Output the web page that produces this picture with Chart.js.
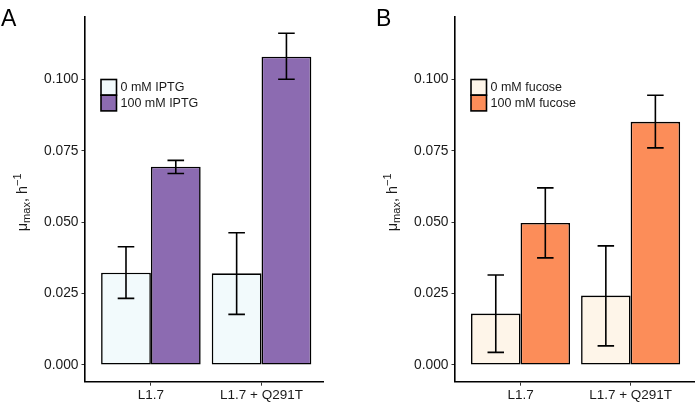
<!DOCTYPE html>
<html>
<head>
<meta charset="utf-8">
<script src="https://cdn.jsdelivr.net/npm/chart.js@4"></script>
<style>
  body { margin: 0; width: 695px; height: 405px; overflow: hidden; background: #fff; position: relative; font-family: "Liberation Sans", Arial, sans-serif; }
  .panel { position: absolute; top: 0; }
  .letter { position: absolute; font-size: 23px; color: #000; line-height: 1; }
</style>
</head>
<body>
<div class="panel" style="left:0"><canvas id="chartA" width="345" height="405"></canvas></div>
<div class="panel" style="left:345px"><canvas id="chartB" width="350" height="405"></canvas></div>
<div class="letter" style="left:1px;top:7px">A</div>
<div class="letter" style="left:376px;top:7px">B</div>
<script>
// strains on the x axis
const categories = ['L1.7', 'L1.7 + Q291T'];

// panel A: IPTG
const iptg0 = [0.0323, 0.0321];
const iptg0Lo = [0.0233, 0.0177];
const iptg0Hi = [0.0414, 0.0463];
const iptg100 = [0.0694, 0.1079];
const iptg100Lo = [0.0670, 0.1000];
const iptg100Hi = [0.0716, 0.1161];

// panel B: fucose
const fuc0 = [0.0180, 0.0243];
const fuc0Lo = [0.0044, 0.0067];
const fuc0Hi = [0.0315, 0.0417];
const fuc100 = [0.0497, 0.0851];
const fuc100Lo = [0.0375, 0.0760];
const fuc100Hi = [0.0620, 0.0944];

const yTickValues = [0, 0.025, 0.05, 0.075, 0.1];
const yTickLabels = ['0.000', '0.025', '0.050', '0.075', '0.100'];

const FONT = '"Liberation Sans", Arial, sans-serif';
const TEXT = '#1a1a1a';

// error bars drawn on top of the bars
const errorBars = {
    id: 'errorBars',
    afterDatasetsDraw(chart) {
        const ctx = chart.ctx;
        const xs = chart.scales.x, ys = chart.scales.y;
        const unit = xs.getPixelForValue(2) - xs.getPixelForValue(1);
        const half = unit * 0.075;
        ctx.save();
        ctx.strokeStyle = '#000';
        ctx.lineWidth = 1.6;
        chart.data.datasets.forEach((ds, di) => {
            chart.getDatasetMeta(di).data.forEach((bar, i) => {
                const top = ys.getPixelForValue(ds.hi[i]);
                const bot = ys.getPixelForValue(ds.lo[i]);
                ctx.beginPath();
                ctx.moveTo(bar.x, top); ctx.lineTo(bar.x, bot);
                ctx.moveTo(bar.x - half, top); ctx.lineTo(bar.x + half, top);
                ctx.moveTo(bar.x - half, bot); ctx.lineTo(bar.x + half, bot);
                ctx.stroke();
            });
        });
        ctx.restore();
    }
};

// legend inside the plot and y axis title with sub/superscript
const decorations = {
    id: 'decorations',
    afterDraw(chart) {
        const ctx = chart.ctx;
        const area = chart.chartArea;
        ctx.save();
        // legend
        const kx = area.left + 16.5, ky = 79.5, kw = 15.5, kh = 15.7;
        chart.data.datasets.forEach((ds, i) => {
            ctx.fillStyle = ds.backgroundColor;
            ctx.fillRect(kx, ky + i * kh, kw, kh);
            ctx.strokeStyle = '#000';
            ctx.lineWidth = 1.6;
            ctx.strokeRect(kx, ky + i * kh, kw, kh);
            ctx.fillStyle = TEXT;
            ctx.font = '12.5px ' + FONT;
            ctx.textBaseline = 'middle';
            ctx.textAlign = 'left';
            ctx.fillText(ds.label, kx + kw + 4, ky + i * kh + kh / 2 + 0.5);
        });
        // y title
        const cy = (area.top + area.bottom) / 2 + 3;
        ctx.translate(area.left - 58, cy);
        ctx.rotate(-Math.PI / 2);
        const big = '14.5px ' + FONT, small = '11px ' + FONT;
        const parts = [
            { t: 'μ', f: big, dy: 0 },
            { t: 'max', f: small, dy: 3.5 },
            { t: ', h', f: big, dy: 0 },
            { t: '−1', f: small, dy: -6 }
        ];
        let total = 0;
        parts.forEach(p => { ctx.font = p.f; p.w = ctx.measureText(p.t).width; total += p.w; });
        let x = -total / 2;
        ctx.fillStyle = TEXT;
        ctx.textBaseline = 'alphabetic';
        ctx.textAlign = 'left';
        parts.forEach(p => { ctx.font = p.f; ctx.fillText(p.t, x, p.dy); x += p.w; });
        ctx.restore();
    }
};

function makeChart(id, yWidth, padRight, xMax, series) {
    const datasets = series.map(s => ({
        label: s.label,
        data: s.values.map((v, i) => ({ x: i + 1, y: v })),
        lo: s.lo,
        hi: s.hi,
        backgroundColor: s.color,
        borderColor: '#000',
        borderWidth: 1.6,
        borderSkipped: false,
        categoryPercentage: 0.9,
        barPercentage: 1.0
    }));
    return new Chart(document.getElementById(id), {
        type: 'bar',
        data: { datasets },
        options: {
            responsive: false,
            animation: false,
            layout: { padding: { top: 17, right: padRight, bottom: 0, left: 0 } },
            plugins: { legend: { display: false }, tooltip: { enabled: false } },
            scales: {
                x: {
                    type: 'linear',
                    offset: false,
                    min: 0.4,
                    max: xMax,
                    afterBuildTicks: s => { s.ticks = categories.map((c, i) => ({ value: i + 1 })); },
                    afterFit: s => { s.height = 23.3; },
                    ticks: {
                        callback: v => categories[v - 1],
                        color: TEXT,
                        font: { family: FONT, size: 13.5 },
                        padding: 1.5,
                        maxRotation: 0,
                        autoSkip: false
                    },
                    grid: { offset: false, drawOnChartArea: false, drawTicks: true, tickLength: 4, color: '#333' },
                    border: { display: true, color: '#000', width: 1.6 }
                },
                y: {
                    min: -0.00585,
                    max: 0.1218,
                    afterBuildTicks: s => { s.ticks = yTickValues.map(v => ({ value: v })); },
                    afterFit: s => { s.width = yWidth; },
                    ticks: {
                        callback: (v, i) => yTickLabels[i],
                        color: TEXT,
                        font: { family: FONT, size: 13.8 },
                        padding: 3
                    },
                    grid: { drawOnChartArea: false, drawTicks: true, tickLength: 3, color: '#333' },
                    border: { display: true, color: '#000', width: 1.6 }
                }
            }
        },
        plugins: [errorBars, decorations]
    });
}

makeChart('chartA', 84.5, 21.5, 2.56, [
    { label: '0 mM IPTG', values: iptg0, lo: iptg0Lo, hi: iptg0Hi, color: '#f2fafc' },
    { label: '100 mM IPTG', values: iptg100, lo: iptg100Lo, hi: iptg100Hi, color: '#8c6bb1' }
]);

makeChart('chartB', 109.5, 0, 2.585, [
    { label: '0 mM fucose', values: fuc0, lo: fuc0Lo, hi: fuc0Hi, color: '#fef5e9' },
    { label: '100 mM fucose', values: fuc100, lo: fuc100Lo, hi: fuc100Hi, color: '#fc8d59' }
]);
</script>
</body>
</html>
